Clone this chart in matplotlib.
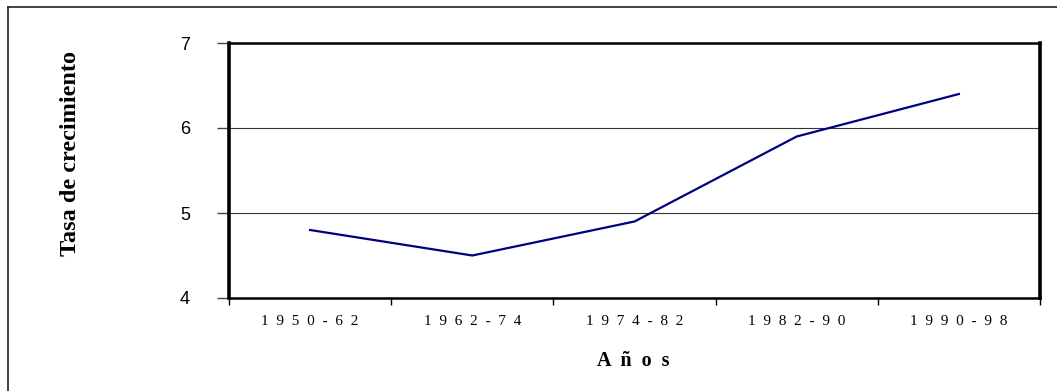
import matplotlib.pyplot as plt
from matplotlib.lines import Line2D

# Growth rate by period
periods = ["1950-62", "1962-74", "1974-82", "1982-90", "1990-98"]
rates = [4.8, 4.5, 4.9, 5.9, 6.4]

W, H = 1057, 391
fig = plt.figure(figsize=(W / 100, H / 100), dpi=100)
ax = fig.add_axes([229 / W, 1 - 298 / H, (1040 - 229) / W, (298 - 43) / H])

x = list(range(len(periods)))
ax.plot(x, rates, color="#000080", linewidth=1.6, zorder=3)

ax.set_xlim(-0.5, len(periods) - 0.5)
ax.set_ylim(4, 7)
ax.set_yticks([4, 5, 6, 7])
ax.set_yticklabels(["4", "5", "6", "7"], fontfamily="Liberation Sans", fontsize=13)
ax.tick_params(axis="y", direction="out", length=9, width=1, pad=19, color="#444444")

# category boundaries as major ticks, labels in between
ax.set_xticks([i - 0.5 for i in range(len(periods) + 1)])
ax.set_xticklabels([])
ax.tick_params(axis="x", which="major", direction="out", length=5, width=1)
ax.set_xticks(x, minor=True)
ax.set_xticklabels(["  ".join(p) for p in periods], minor=True,
                   fontfamily="Liberation Serif", fontsize=11)
ax.tick_params(axis="x", which="minor", length=0, pad=12)

ax.grid(axis="y", color="#333333", linewidth=0.8)
ax.set_axisbelow(True)

ax.spines["left"].set_linewidth(2.6)
ax.spines["right"].set_linewidth(2.6)
ax.spines["top"].set_linewidth(1.8)
ax.spines["bottom"].set_linewidth(1.8)

fig.text(71 / W, 1 - 154 / H, "Tasa de crecimiento", rotation=90,
         ha="center", va="center", fontfamily="Liberation Serif",
         fontweight="bold", fontsize=17.5)
fig.text(633 / W, 1 - 361 / H, "A  ñ  o  s", ha="center", va="center",
         fontfamily="Liberation Serif", fontweight="bold", fontsize=14.5)

# outer chart frame (top and left edges)
fig.add_artist(Line2D([7.5 / W, 7.5 / W], [0, 1 - 7 / H], color="#222222", linewidth=1.2))
fig.add_artist(Line2D([7.5 / W, 1], [1 - 7 / H, 1 - 7 / H], color="#222222", linewidth=1.2))

fig.savefig("out.png", dpi=100)
